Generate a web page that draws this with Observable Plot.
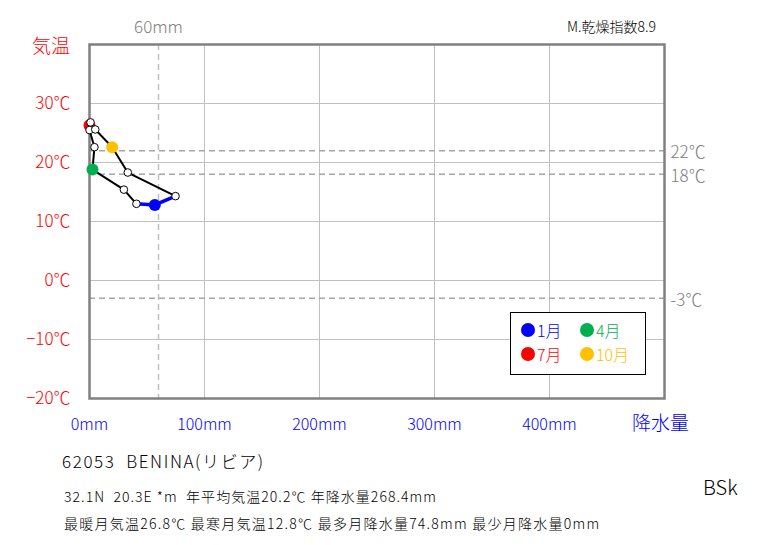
<!DOCTYPE html>
<html><head><meta charset="utf-8">
<script src="https://cdn.jsdelivr.net/npm/d3@7"></script>
<script src="https://cdn.jsdelivr.net/npm/@observablehq/plot@0.6"></script>
<style>
body{margin:0;background:#fff;font-family:"Noto Sans CJK JP","Noto Sans",sans-serif;font-weight:300;}
#wrap{position:relative;width:763px;height:545px;overflow:hidden;}
.abs{position:absolute;white-space:pre;line-height:1;}
#legend{position:absolute;left:510px;top:312px;width:134px;height:61px;border:1.5px solid #000;background:#fff;}
.li{position:absolute;font-size:16px;line-height:1;display:flex;align-items:center;}
.li span.d{display:inline-block;width:14px;height:14px;border-radius:50%;margin-right:2px;}
svg text{font-weight:300;}
</style></head>
<body><div id="wrap"></div>
<script>
const months = [1,2,3,4,5,6,7,8,9,10,11,12];
const precip = [56.8, 40.8, 29.9, 2.6, 4.3, 0.0, 0.0, 0.9, 5.0, 19.7, 33.3, 74.8];
const temp   = [12.8, 13.0, 15.4, 18.8, 22.6, 25.5, 26.3, 26.8, 25.6, 22.6, 18.3, 14.3];
const xTicks = [0,100,200,300,400];
const yTicks = [-20,-10,0,10,20,30];
const refTemps = [22,18,-3];
const refPrecip = [60];
const keyMonths = [1,4,7,10];
const keyColors = ["#0000ff","#00b050","#ff0000","#ffc000"];

const rows = months.map((m,i)=>({m, p:precip[i], t:temp[i]}));
const loop = rows.concat([rows[0]]);
const janSeg = [rows[11], rows[0], rows[1]];
const colorOf = m => keyColors[keyMonths.indexOf(m)];

const chart = Plot.plot({
  width:763, height:545,
  marginLeft:89, marginRight:99, marginTop:44, marginBottom:147,
  x:{domain:[0,500]}, y:{domain:[-20,40]},
  style:{fontFamily:'"Noto Sans CJK JP","Noto Sans",sans-serif', background:"#fff"},
  marks:[
    Plot.gridX(xTicks.filter(d=>d>0), {stroke:"#c0c0c0", strokeOpacity:1}),
    Plot.gridY(yTicks.filter(d=>d>-20), {stroke:"#c0c0c0", strokeOpacity:1}),
    Plot.ruleY(refTemps, {stroke:"#a6a6a6", strokeWidth:1.5, strokeDasharray:"6,4"}),
    Plot.ruleX(refPrecip, {stroke:"#bfbfbf", strokeWidth:1.5, strokeDasharray:"6,4"}),
    Plot.frame({stroke:"#808080", strokeWidth:2.5}),
    Plot.axisY(yTicks, {tickSize:0, tickPadding:19, tickFormat:d=>(d<0?"−"+(-d):d)+"℃", fill:"#ff0000", fontSize:17, label:null}),
    Plot.axisX(xTicks, {tickSize:0, tickPadding:20, tickFormat:d=>d+"mm", fill:"#0000ff", fontSize:16, label:null}),
    Plot.text(refTemps, {x:500, y:d=>d, text:d=>d+"℃", textAnchor:"start", dx:6, dy:2, fill:"#808080", fontSize:17}),
    Plot.text(refPrecip, {x:d=>d, y:40, text:d=>d+"mm", dy:-17, fill:"#808080", fontSize:17}),
    Plot.line(loop, {x:"p", y:"t", stroke:"#000", strokeWidth:2}),
    Plot.line(janSeg, {x:"p", y:"t", stroke:"#0000ff", strokeWidth:3.5}),
    Plot.dot(rows.filter(d=>keyMonths.includes(d.m)), {x:"p", y:"t", r:6, fill:d=>colorOf(d.m)}),
    Plot.dot(rows.filter(d=>!keyMonths.includes(d.m)), {x:"p", y:"t", r:3.8, fill:"#fff", stroke:"#000", strokeWidth:1})
  ]
});
const wrap = document.getElementById("wrap");
wrap.appendChild(chart);
chart.style.position="absolute"; chart.style.left="0"; chart.style.top="0";

function addText(txt, x, y, size, color, extra){
  const d=document.createElement("div"); d.className="abs"; d.textContent=txt;
  d.style.left=x+"px"; d.style.top=y+"px"; d.style.fontSize=size+"px"; d.style.color=color;
  if(extra) Object.assign(d.style, extra);
  wrap.appendChild(d); return d;
}
addText("気温", 32, 35, 19, "#ff0000");
addText("降水量", 632, 412, 19, "#0000ff");
addText("M.乾燥指数8.9", 567, 19, 14, "#000");
addText("62053  BENINA(リビア)", 62, 452, 17, "#000", {letterSpacing:"1.6px"});
addText("32.1N  20.3E *m  年平均気温20.2℃ 年降水量268.4mm", 64, 489, 14, "#000", {letterSpacing:"1.05px"});
addText("最暖月気温26.8℃ 最寒月気温12.8℃ 最多月降水量74.8mm 最少月降水量0mm", 64, 516, 14, "#000", {letterSpacing:"1.25px"});
addText("BSk", 703, 477, 20, "#000");

const lg=document.createElement("div"); lg.id="legend"; wrap.appendChild(lg);
keyMonths.forEach((m,i)=>{
  const it=document.createElement("div"); it.className="li";
  it.style.left=(i%2===0?10:69)+"px"; it.style.top=(i<2?9:33)+"px"; it.style.color=keyColors[i];
  const dot=document.createElement("span"); dot.className="d"; dot.style.background=keyColors[i];
  it.appendChild(dot); it.appendChild(document.createTextNode(m+"月"));
  lg.appendChild(it);
});
</script></body></html>
